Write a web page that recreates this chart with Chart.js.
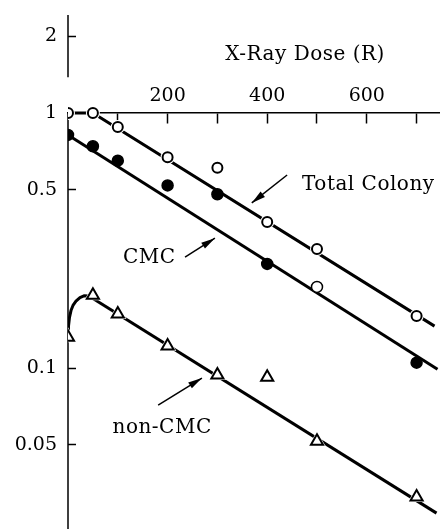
<!DOCTYPE html>
<html>
<head>
<meta charset="utf-8">
<script src="https://cdn.jsdelivr.net/npm/chart.js@4.4.1/dist/chart.umd.min.js"></script>
<style>
  html, body { margin: 0; padding: 0; background: #fff; }
  #wrap { width: 440px; height: 529px; }
</style>
</head>
<body>
<div id="wrap"><canvas id="chart"></canvas></div>
<script>
// X-ray dose (R) and surviving fractions
const doses = [0, 50, 100, 200, 300, 400, 500, 700];
const totalColony = [1, 1, 0.88, 0.67, 0.61, 0.374, 0.293, 0.16];
const cmc = [0.82, 0.74, 0.65, 0.52, 0.48, 0.256, 0.208, 0.105];
const cmcOpenDoses = [500];
const nonCmc = [0.132, 0.193, 0.163, 0.122, 0.094, 0.092, 0.0517, 0.0312];

// fitted lines as drawn in the figure
const totalFitX = [0, 50, 736];
const totalFitY = [1, 1, 0.146];
const cmcFitX = [0, 742];
const cmcFitY = [0.82, 0.099];
const nonCmcRiseX = [0, 1, 3, 6, 10, 16, 24, 32, 42];
const nonCmcRiseY = [0.132, 0.146, 0.158, 0.168, 0.176, 0.183, 0.189, 0.192, 0.1915];
const nonCmcFitX = [42, 740];
const nonCmcFitY = [0.1915, 0.027];

// axes
const xTicks = [100, 200, 300, 400, 500, 600, 700];
const xLabels = [200, 400, 600];
const yTicks = [0.05, 0.1, 0.5, 1, 2];

const pts = (xs, ys) => xs.map((x, i) => ({ x: x, y: ys[i] }));

// labels and arrows, in data units
const notes = [
    { text: 'X-Ray Dose (R)', x: 476, y: 1.69, align: 'center' },
    { text: 'Total Colony', x: 470, y: 0.522, align: 'left', arrow: [440, 0.571, 369, 0.444] },
    { text: 'CMC', x: 163, y: 0.27, align: 'center', arrow: [235, 0.272, 295, 0.323] },
    { text: 'non-CMC', x: 189, y: 0.0582, align: 'center', arrow: [181, 0.0716, 269, 0.0914] }
];

Chart.defaults.font.family = "'DejaVu Serif', serif";
Chart.defaults.color = '#000';

const fitLine = data => ({
    data: data,
    showLine: true,
    borderColor: '#000',
    borderWidth: 3,
    borderJoinStyle: 'round',
    pointRadius: 0,
    order: 3
});

const halo = (data, style, r) => ({
    data: data,
    pointStyle: style,
    pointRadius: r,
    pointBackgroundColor: '#fff',
    pointBorderWidth: 0,
    pointBorderColor: '#fff',
    order: 2
});

const extras = {
    id: 'extras',
    beforeDatasetsDraw(chart) {
        const { ctx, scales: { x, y } } = chart;
        const ax = x.getPixelForValue(0);
        ctx.save();
        ctx.strokeStyle = '#000';
        ctx.lineWidth = 1.5;
        ctx.beginPath();
        ctx.moveTo(ax, chart.chartArea.top);
        ctx.lineTo(ax, y.getPixelForValue(1.38));
        ctx.moveTo(ax, y.getPixelForValue(1));
        ctx.lineTo(ax, chart.chartArea.bottom);
        ctx.stroke();
        ctx.restore();
    },
    afterDraw(chart) {
        const { ctx, scales: { x, y } } = chart;
        ctx.save();
        ctx.fillStyle = '#000';
        ctx.strokeStyle = '#000';
        ctx.font = "20px 'DejaVu Serif'";
        ctx.letterSpacing = '0.5px';
        ctx.textBaseline = 'middle';
        notes.forEach(n => {
            ctx.textAlign = n.align;
            ctx.fillText(n.text, x.getPixelForValue(n.x), y.getPixelForValue(n.y));
            if (!n.arrow) return;
            const x1 = x.getPixelForValue(n.arrow[0]), y1 = y.getPixelForValue(n.arrow[1]);
            const x2 = x.getPixelForValue(n.arrow[2]), y2 = y.getPixelForValue(n.arrow[3]);
            const a = Math.atan2(y2 - y1, x2 - x1);
            ctx.lineWidth = 1.5;
            ctx.beginPath();
            ctx.moveTo(x1, y1);
            ctx.lineTo(x2, y2);
            ctx.stroke();
            ctx.beginPath();
            ctx.moveTo(x2, y2);
            ctx.lineTo(x2 - 14 * Math.cos(a) + 3.5 * Math.sin(a), y2 - 14 * Math.sin(a) - 3.5 * Math.cos(a));
            ctx.lineTo(x2 - 14 * Math.cos(a) - 3.5 * Math.sin(a), y2 - 14 * Math.sin(a) + 3.5 * Math.cos(a));
            ctx.closePath();
            ctx.fill();
        });
        ctx.restore();
    }
};

new Chart(document.getElementById('chart'), {
    type: 'scatter',
    data: {
        datasets: [
            fitLine(pts(totalFitX, totalFitY)),
            fitLine(pts(cmcFitX, cmcFitY)),
            fitLine(pts(nonCmcFitX, nonCmcFitY)),
            fitLine(pts(nonCmcRiseX, nonCmcRiseY)),
            halo(pts(doses, totalColony), 'circle', 7),
            halo(pts(doses, nonCmc), 'triangle', 10),
            {
                data: pts(doses, totalColony),
                pointStyle: 'circle',
                pointRadius: 5,
                pointBorderWidth: 2,
                pointBorderColor: '#000',
                pointBackgroundColor: '#fff',
                order: 1
            },
            {
                data: pts(doses, cmc),
                pointStyle: 'circle',
                pointRadius: 5.5,
                pointBorderWidth: 1.5,
                pointBorderColor: '#000',
                pointBackgroundColor: c => cmcOpenDoses.includes(doses[c.dataIndex]) ? '#fff' : '#000',
                order: 1
            },
            {
                data: pts(doses, nonCmc),
                pointStyle: 'triangle',
                pointRadius: 7,
                pointBorderWidth: 2,
                pointBorderColor: '#000',
                pointBackgroundColor: '#fff',
                order: 1
            }
        ]
    },
    options: {
        responsive: true,
        maintainAspectRatio: false,
        animation: false,
        events: [],
        layout: { autoPadding: false, padding: { top: 15, left: 0, right: 0, bottom: 0 } },
        plugins: { legend: { display: false }, tooltip: { enabled: false } },
        scales: {
            x: {
                type: 'linear',
                min: 0,
                max: 747,
                position: { y: 1 },
                afterBuildTicks: s => { s.ticks = xTicks.map(v => ({ value: v })); },
                afterFit: s => { s.height = 0; s.paddingTop = 0; s.paddingBottom = 0; },
                ticks: {
                    autoSkip: false,
                    maxRotation: 0,
                    padding: -38,
                    font: { size: 19 },
                    callback: v => xLabels.includes(v) ? String(v) : ''
                },
                grid: { drawOnChartArea: false, tickLength: 10, tickWidth: 1.5, tickColor: '#000' },
                border: { display: true, color: '#000', width: 1.5 }
            },
            y: {
                type: 'logarithmic',
                min: 0.0234,
                max: 2.42,
                position: 'left',
                afterFit: s => { s.width = 68; s.paddingTop = 0; s.paddingBottom = 0; },
                afterBuildTicks: s => { s.ticks = yTicks.map(v => ({ value: v })); },
                ticks: {
                    padding: 19,
                    font: { size: 19 },
                    callback: v => String(v)
                },
                grid: {
                    drawOnChartArea: false,
                    tickLength: -8,
                    tickWidth: 1.5,
                    tickColor: c => c.tick && c.tick.value === 1 ? 'rgba(0,0,0,0)' : '#000'
                },
                border: { display: false }
            }
        }
    },
    plugins: [extras]
});
</script>
</body>
</html>
